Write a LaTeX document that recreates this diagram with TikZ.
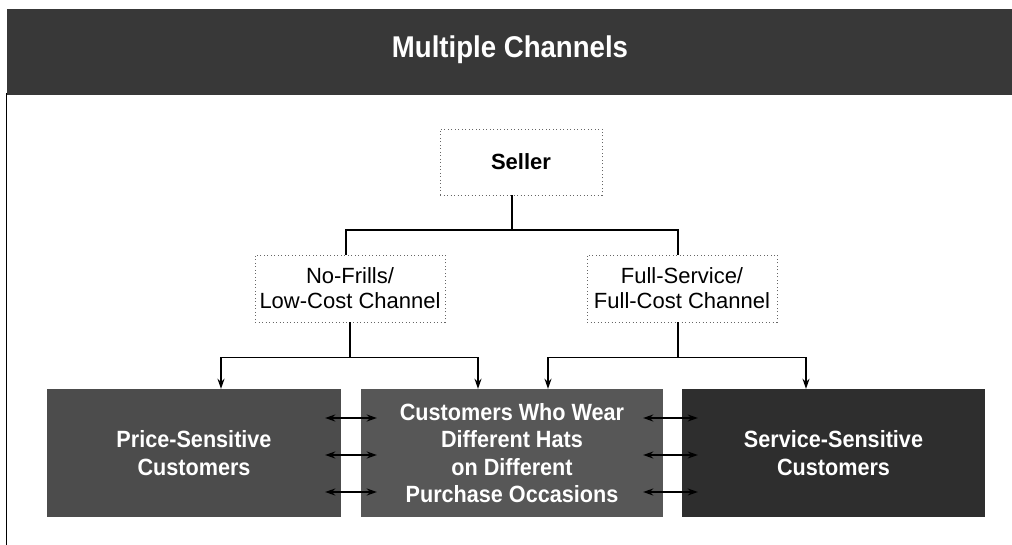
\documentclass[tikz,border=0pt]{standalone}
\usepackage{fontspec}
\setmainfont{Liberation Sans}
\newfontfamily\boxfont[FakeStretch=0.92]{Liberation Sans}
\usetikzlibrary{arrows.meta}
\begin{document}
\begin{tikzpicture}[x=1pt,y=-1pt,
  dotbox/.style={draw=black!60, dash pattern=on 1pt off 2.5pt, line width=0.6pt, align=center, inner sep=0pt},
  darkbox/.style={fill=black!70, text=white, align=center, inner sep=0pt, minimum height=128pt,
    font=\boxfont\bfseries\fontsize{23.5}{27.5}\selectfont},
  conn/.style={line width=1.4pt},
  arr/.style={conn, -{Stealth[length=10pt,width=7pt]}},
  darr/.style={conn, {Stealth[length=10pt,width=7pt]}-{Stealth[length=10pt,width=7pt]}}]
\useasboundingbox (0,0) rectangle (1012,545);
% header band
\node[fill=black!78, minimum width=1005pt, minimum height=86pt, inner sep=0pt, anchor=north west] (head) at (7,9) {};
\node[text=white, font=\boxfont\bfseries\fontsize{30}{34}\selectfont] (title) at (510,50) {Multiple Channels};
\coordinate (ftop) at (6,93);
\coordinate (fbot) at (6,545);
\draw[line width=1pt] (ftop) -- (fbot);
% seller and channels
\node[dotbox, minimum width=162pt, minimum height=66pt, font=\bfseries\fontsize{22}{26}\selectfont] (seller) at (521,162) {Seller};
\node[dotbox, minimum width=190pt, minimum height=67pt, font=\fontsize{22}{25}\selectfont] (nf) at (350,288.5) {No-Frills/\\Low-Cost Channel};
\node[dotbox, minimum width=190pt, minimum height=67pt, font=\fontsize{22}{25}\selectfont] (fs) at (682,288.5) {Full-Service/\\Full-Cost Channel};
% customer boxes
\node[darkbox, minimum width=294pt] (psc) at (194,453) {Price-Sensitive\\Customers};
\node[darkbox, fill=black!66, minimum width=302pt] (mid) at (512,453) {Customers Who Wear\\Different Hats\\on Different\\Purchase Occasions};
\node[darkbox, fill=black!82, minimum width=303pt] (ssc) at (833.5,453) {Service-Sensitive\\Customers};
% connectors
\coordinate (j1) at (512,230);
\draw[conn] ([xshift=-9pt]seller.south) -- (j1);
\draw[conn] ([xshift=-4pt]nf.north) -- ([xshift=-4pt]nf.north |- j1) -- ([xshift=-4pt]fs.north |- j1) -- ([xshift=-4pt]fs.north);
\draw[conn] (nf.south) -- ++(0,35) coordinate (jl);
\draw[conn] ([xshift=-4pt]fs.south) -- ++(0,35) coordinate (jr);
\draw[arr] (jl) -| ([xshift=27pt]psc.north);
\draw[arr] (jl) -| ([xshift=-34pt]mid.north);
\draw[arr] (jr) -| ([xshift=36pt]mid.north);
\draw[arr] (jr) -| ([xshift=-27.5pt]ssc.north);
% double arrows between boxes
\foreach \dy in {35,-2,-39}{
  \draw[darr] ([xshift=-16pt,yshift=\dy pt]psc.east) -- ([xshift=16pt,yshift=\dy pt]mid.west);
  \draw[darr] ([xshift=-20pt,yshift=\dy pt]mid.east) -- ([xshift=16pt,yshift=\dy pt]ssc.west);
}
\end{tikzpicture}
\end{document}
